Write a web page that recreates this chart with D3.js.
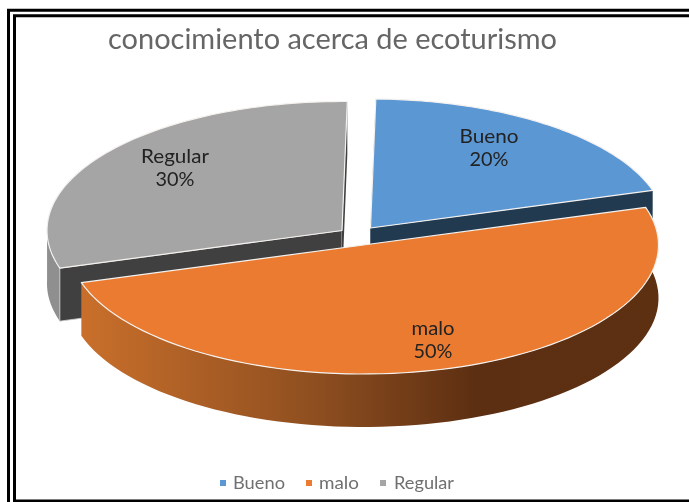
<!DOCTYPE html>
<html><head><meta charset="utf-8">
<script src="https://cdn.jsdelivr.net/npm/d3@7"></script>
<style>html,body{margin:0;padding:0;background:#fff;overflow:hidden}svg{display:block}text{font-family:Lato,"Open Sans",sans-serif}</style>
</head><body><div id="c"></div>
<script>
const categories = ["Bueno", "malo", "Regular"];
const values = [20, 50, 30];
const colors = ["#5b97d3", "#ea7b30", "#a5a5a5"];
const cutColors = ["#223a50", "#5c2f12", "#404040"];
const wallColors = ["#3f6f9e", "#5c2f12", "#8f8f8f"];
const titleText = "conocimiento acerca de ecoturismo";

const W = 689, H = 502;
const svg = d3.select("#c").append("svg").attr("width", W).attr("height", H);
const defs = svg.append("defs");
defs.append("filter").attr("id","soft").append("feGaussianBlur").attr("stdDeviation",0.4);
const grad = defs.append("linearGradient").attr("id","wall").attr("gradientUnits","userSpaceOnUse")
  .attr("x1",82).attr("x2",660).attr("y1",0).attr("y2",0);
[[0,"#c96f2b"],[0.4,"#8f4f20"],[0.68,"#5d2f12"],[1,"#5d3012"]].forEach(s=>
  grad.append("stop").attr("offset",s[0]).attr("stop-color",s[1]));

// frame
const frame = svg.append("g").attr("fill","none").attr("stroke","#000");
frame.append("path").attr("d",`M${W+5},10.3H8.5V${H+5}`).attr("stroke-width",3);
frame.append("path").attr("d",`M${W+5},15.7H14.5V501H${W+5}`).attr("stroke-width",3);

// title
svg.append("text").attr("x",332.5).attr("y",49).attr("text-anchor","middle")
  .attr("font-size",28).attr("fill","#666").attr("textLength",449)
  .attr("lengthAdjust","spacingAndGlyphs").attr("filter","url(#soft)").text(titleText);

// pie geometry
const tilt = 0.018;
const pie = d3.pie().sort(null).value(d=>d).startAngle(tilt).endAngle(2*Math.PI+tilt)(values);
const centres = [[370.5,228],[363.5,245],[342,230.5]];
const rx = 295, ry = 129;
const depth = 53;
function proj(i, th, r=1, dz=0){
  return [centres[i][0] + rx*r*Math.sin(th), centres[i][1] - ry*r*Math.cos(th) + dz];
}
const line = d3.line();
function arcPts(i, t0, t1, dz=0){
  return d3.range(0,81).map(j=>proj(i, t0+(t1-t0)*j/80, 1, dz));
}
const wallPath = (i,t0,t1)=> line(arcPts(i,t0,t1,0).concat(arcPts(i,t1,t0,depth)))+"Z";
const cutPath = (i,t)=>{ const A=proj(i,t,0,0),B=proj(i,t,1,0),C=proj(i,t,1,depth),D=proj(i,t,0,depth);
  return line([A,B,C,D])+"Z"; };

const stroke = "#f4f1ee";
const order = [2,0,1];
order.forEach(i=>{
  const p = pie[i], g = svg.append("g");
  if(i===2){
    g.append("path").attr("d",wallPath(i,p.startAngle,1.5*Math.PI+0.02)).attr("fill",wallColors[i]);
    g.append("path").attr("d",cutPath(i,p.startAngle)).attr("fill",cutColors[i]).attr("stroke","#d8d8d8").attr("stroke-width",.8);
    g.append("path").attr("d",cutPath(i,p.endAngle)).attr("fill",cutColors[i]);
  }
  if(i===0){
    g.append("path").attr("d",cutPath(i,p.startAngle)).attr("fill",cutColors[i]);
    g.append("path").attr("d",cutPath(i,p.endAngle)).attr("fill",cutColors[i]);
  }
  if(i===1){
    g.append("path").attr("d",wallPath(i,p.startAngle,p.endAngle)).attr("fill","url(#wall)");
  }
  const top = [proj(i,0,0)].concat(arcPts(i,p.startAngle,p.endAngle));
  g.append("path").attr("d",line(top)+"Z").attr("fill",colors[i])
    .attr("stroke",stroke).attr("stroke-width",1.2).attr("stroke-linejoin","round");
});

// data labels
const labelPos = [[489,143],[433,335],[175,163]];
const nameW = [59,43,68];
labelPos.forEach((q,i)=>{
  const g = svg.append("g").attr("text-anchor","middle").attr("font-size",18.5)
    .attr("fill","#222").attr("filter","url(#soft)").attr("lengthAdjust","spacingAndGlyphs");
  g.append("text").attr("x",q[0]).attr("y",q[1]).attr("textLength",nameW[i])
    .attr("lengthAdjust","spacingAndGlyphs").text(categories[i]);
  g.append("text").attr("x",q[0]).attr("y",q[1]+23).attr("textLength",39)
    .attr("lengthAdjust","spacingAndGlyphs").text(values[i]+"%");
});

// legend
const legX = [220,306,380], textX=[233,319,394], textW=[52,40,60];
categories.forEach((c,i)=>{
  svg.append("rect").attr("x",legX[i]).attr("y",480).attr("width",6).attr("height",6).attr("fill",colors[i]);
  svg.append("text").attr("x",textX[i]).attr("y",489).attr("font-size",16.5).attr("fill","#6f6f6f")
    .attr("textLength",textW[i]).attr("lengthAdjust","spacingAndGlyphs").attr("filter","url(#soft)").text(c);
});
</script></body></html>
